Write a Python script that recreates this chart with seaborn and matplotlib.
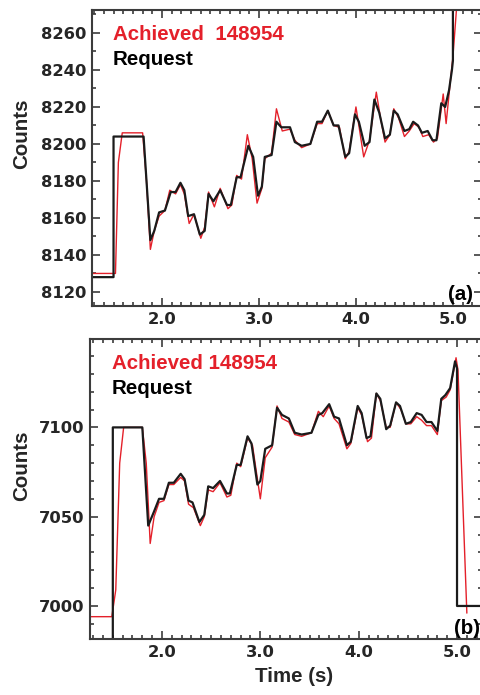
import numpy as np
import pandas as pd
import matplotlib
matplotlib.use('Agg')
import matplotlib.pyplot as plt
from matplotlib.ticker import MultipleLocator, FormatStrFormatter
import seaborn as sns

# DATA

# panel (a) - request (black)
a_req_t = [1.28, 1.50, 1.50, 1.81, 1.88, 1.92, 1.97, 2.03, 2.09, 2.14,
           2.19, 2.23, 2.27, 2.33, 2.39, 2.44, 2.48, 2.53, 2.60, 2.67,
           2.71, 2.77, 2.81, 2.89, 2.94, 2.99, 3.03, 3.06, 3.13, 3.18,
           3.23, 3.32, 3.37, 3.44, 3.53, 3.60, 3.65, 3.71, 3.77, 3.82,
           3.89, 3.93, 3.99, 4.03, 4.09, 4.14, 4.19, 4.24, 4.30, 4.35,
           4.39, 4.43, 4.50, 4.55, 4.59, 4.64, 4.68, 4.74, 4.79, 4.83,
           4.88, 4.92, 4.96, 4.99, 5.00, 5.00, 5.30]
a_req_v = [8128, 8128, 8204, 8204, 8148, 8153, 8163, 8164, 8174, 8174,
           8179, 8175, 8161, 8162, 8151, 8153, 8173, 8169, 8175, 8167,
           8167, 8182, 8182, 8199, 8193, 8172, 8177, 8193, 8194, 8212,
           8209, 8209, 8201, 8199, 8200, 8212, 8212, 8218, 8210, 8210,
           8193, 8195, 8216, 8212, 8199, 8201, 8224, 8217, 8203, 8205,
           8218, 8216, 8207, 8208, 8212, 8210, 8206, 8207, 8202, 8202,
           8222, 8220, 8229, 8240, 8245, 8320, 8320]

# panel (a) - achieved (red)
a_ach_t = [1.28, 1.52, 1.55, 1.59, 1.80, 1.84, 1.88, 1.92, 1.97, 2.03,
           2.08, 2.14, 2.19, 2.23, 2.28, 2.33, 2.40, 2.44, 2.48, 2.54,
           2.60, 2.68, 2.72, 2.77, 2.82, 2.88, 2.93, 2.98, 3.03, 3.06,
           3.13, 3.18, 3.24, 3.32, 3.37, 3.44, 3.53, 3.60, 3.65, 3.71,
           3.77, 3.83, 3.89, 3.93, 4.00, 4.03, 4.08, 4.14, 4.21, 4.25,
           4.30, 4.35, 4.39, 4.44, 4.50, 4.55, 4.60, 4.65, 4.69, 4.75,
           4.80, 4.84, 4.90, 4.93, 4.97, 5.00, 5.04, 5.06]
a_ach_v = [8130, 8130, 8190, 8206, 8206, 8180, 8143, 8153, 8161, 8164,
           8175, 8173, 8178, 8173, 8157, 8162, 8149, 8155, 8174, 8166,
           8176, 8165, 8167, 8183, 8181, 8205, 8192, 8168, 8176, 8192,
           8195, 8219, 8207, 8208, 8202, 8198, 8200, 8211, 8211, 8218,
           8210, 8209, 8192, 8196, 8220, 8210, 8193, 8202, 8228, 8215,
           8201, 8205, 8219, 8214, 8204, 8207, 8211, 8209, 8204, 8205,
           8201, 8203, 8227, 8211, 8232, 8247, 8275, 8290]

# panel (b) - request (black)
b_req_t = [1.27, 1.50, 1.50, 1.80, 1.86, 1.92, 1.97, 2.02, 2.07, 2.12,
           2.19, 2.23, 2.27, 2.31, 2.38, 2.43, 2.47, 2.52, 2.59, 2.66,
           2.69, 2.76, 2.80, 2.87, 2.91, 2.97, 3.00, 3.05, 3.12, 3.17,
           3.22, 3.29, 3.35, 3.42, 3.52, 3.59, 3.63, 3.70, 3.75, 3.80,
           3.88, 3.92, 3.99, 4.03, 4.08, 4.12, 4.18, 4.22, 4.28, 4.32,
           4.38, 4.42, 4.48, 4.53, 4.59, 4.64, 4.69, 4.74, 4.80, 4.84,
           4.88, 4.93, 4.98, 5.00, 5.00, 5.26]
b_req_v = [6900, 6900, 7100, 7100, 7045, 7053, 7060, 7060, 7069, 7069,
           7074, 7071, 7059, 7058, 7047, 7051, 7067, 7066, 7070, 7063,
           7063, 7079, 7079, 7095, 7091, 7068, 7070, 7088, 7090, 7111,
           7107, 7105, 7097, 7096, 7097, 7107, 7108, 7113, 7106, 7105,
           7090, 7092, 7112, 7108, 7094, 7095, 7119, 7116, 7099, 7101,
           7114, 7112, 7102, 7103, 7108, 7107, 7103, 7103, 7098, 7116,
           7118, 7122, 7137, 7133, 7000, 7000]

# panel (b) - achieved (red)
b_ach_t = [1.27, 1.49, 1.53, 1.57, 1.61, 1.80, 1.84, 1.88, 1.92, 1.97,
           2.02, 2.07, 2.12, 2.19, 2.23, 2.27, 2.32, 2.39, 2.43, 2.47,
           2.52, 2.59, 2.66, 2.70, 2.76, 2.80, 2.87, 2.92, 3.00, 3.05,
           3.12, 3.17, 3.22, 3.29, 3.35, 3.42, 3.52, 3.59, 3.64, 3.70,
           3.75, 3.80, 3.88, 3.92, 3.99, 4.03, 4.09, 4.13, 4.18, 4.22,
           4.28, 4.32, 4.38, 4.43, 4.48, 4.53, 4.59, 4.64, 4.69, 4.74,
           4.80, 4.84, 4.89, 4.93, 4.99, 5.01, 5.10]
b_ach_v = [6994, 6994, 7009, 7080, 7100, 7100, 7080, 7035, 7050, 7058,
           7059, 7068, 7068, 7072, 7070, 7057, 7055, 7045, 7050, 7065,
           7064, 7069, 7061, 7062, 7080, 7078, 7094, 7090, 7060, 7083,
           7089, 7112, 7105, 7103, 7096, 7095, 7097, 7109, 7106, 7112,
           7105, 7102, 7088, 7091, 7111, 7107, 7092, 7094, 7119, 7115,
           7100, 7100, 7114, 7110, 7102, 7102, 7106, 7104, 7101, 7101,
           7096, 7115, 7117, 7121, 7139, 7132, 6996]

# STYLE

sns.set_style('ticks')
plt.rcParams['font.family'] = ['DejaVu Sans']
plt.rcParams['font.weight'] = 'bold'

RED = '#e4202a'
BLACK = '#1b1b1b'
SPINE = '#3c3c3c'
LABEL_FONT = ['Liberation Sans', 'DejaVu Sans']

fig = plt.figure(figsize=(4.81, 6.95), dpi=100)
ax_a = fig.add_axes([92/481, 1 - 306/695, 390/481, 296/695])
ax_b = fig.add_axes([90/481, 1 - 639/695, 392/481, 300/695])


def style_axis(ax, ymajor):
    for sp in ax.spines.values():
        sp.set_visible(True)
        sp.set_color(SPINE)
        sp.set_linewidth(1.5)
    ax.xaxis.set_major_locator(MultipleLocator(1.0))
    ax.xaxis.set_minor_locator(MultipleLocator(0.1))
    ax.xaxis.set_major_formatter(FormatStrFormatter('%.1f'))
    ax.yaxis.set_major_locator(MultipleLocator(ymajor))
    ax.yaxis.set_minor_locator(MultipleLocator(10))
    ax.tick_params(which='both', direction='in', top=True, right=True,
                   color=SPINE, width=1.2)
    ax.tick_params(which='major', length=5.5, labelsize=11.8, pad=4)
    ax.tick_params(which='minor', length=3)
    for lab in ax.get_xticklabels() + ax.get_yticklabels():
        lab.set_fontweight('bold')
    ax.set_xlabel('')
    ax.set_ylabel('')


def draw_panel(ax, req_t, req_v, ach_t, ach_v):
    df_ach = pd.DataFrame({'Time': ach_t, 'Counts': ach_v})
    df_req = pd.DataFrame({'Time': req_t, 'Counts': req_v})
    sns.lineplot(data=df_ach, x='Time', y='Counts', sort=False, estimator=None,
                 color=RED, linewidth=1.0, ax=ax)
    sns.lineplot(data=df_req, x='Time', y='Counts', sort=False, estimator=None,
                 color=BLACK, linewidth=1.6, ax=ax)


# PANEL (a)
draw_panel(ax_a, a_req_t, a_req_v, a_ach_t, a_ach_v)
ax_a.set_xlim(1.278, 5.30)
ax_a.set_ylim(8112.4, 8272.4)
style_axis(ax_a, 20)
ax_a.set_ylabel('Counts', fontsize=14.8, fontweight='bold', family=LABEL_FONT)
ax_a.yaxis.set_label_coords(-0.155, 0.581)
ax_a.text(0.054, 0.899, 'Achieved  148954', transform=ax_a.transAxes, color=RED,
          fontsize=14.8, fontweight='bold', family=LABEL_FONT, va='baseline')
ax_a.text(0.054, 0.814, 'Request', transform=ax_a.transAxes, color='black',
          fontsize=14.8, fontweight='bold', family=LABEL_FONT, va='baseline')
ax_a.text(0.977, 0.008, '(a)', transform=ax_a.transAxes, color='black',
          fontsize=14.8, fontweight='bold', family=LABEL_FONT, ha='right', va='bottom')

# PANEL (b)
draw_panel(ax_b, b_req_t, b_req_v, b_ach_t, b_ach_v)
ax_b.set_xlim(1.268, 5.254)
ax_b.set_ylim(6981.5, 7149.5)
style_axis(ax_b, 50)
ax_b.set_ylabel('Counts', fontsize=14.8, fontweight='bold', family=LABEL_FONT)
ax_b.yaxis.set_label_coords(-0.15, 0.577)
ax_b.set_xlabel('Time (s)', fontsize=14.8, fontweight='bold', family=LABEL_FONT)
ax_b.xaxis.set_label_coords(0.52, -0.095)
ax_b.text(0.056, 0.90, 'Achieved 148954', transform=ax_b.transAxes, color=RED,
          fontsize=14.8, fontweight='bold', family=LABEL_FONT, va='baseline')
ax_b.text(0.056, 0.817, 'Request', transform=ax_b.transAxes, color='black',
          fontsize=14.8, fontweight='bold', family=LABEL_FONT, va='baseline')
ax_b.text(0.995, 0.003, '(b)', transform=ax_b.transAxes, color='black',
          fontsize=14.8, fontweight='bold', family=LABEL_FONT, ha='right', va='bottom')

fig.savefig('out.png', dpi=100)
